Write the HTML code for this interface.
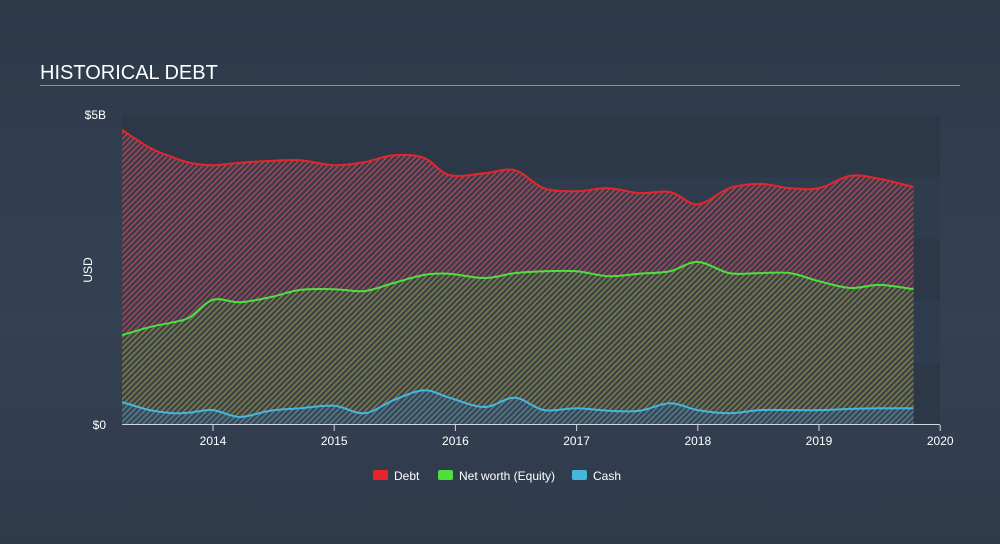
<!DOCTYPE html>
<html><head><meta charset="utf-8"><style>
body{margin:0;width:1000px;height:544px;overflow:hidden;background:linear-gradient(180deg,#2d3a4a 0%,#344153 60%,#2f3b4b 100%);font-family:"Liberation Sans",sans-serif;}
svg{position:absolute;left:0;top:0}
</style></head><body>
<svg width="1000" height="544">
<defs>
<pattern id="hR" width="4" height="4" patternUnits="userSpaceOnUse" patternTransform="rotate(45)"><rect width="4" height="4" fill="#3a3c4b"/><rect width="1.4" height="4" fill="#a8485a"/></pattern>
<pattern id="hG" width="4" height="4" patternUnits="userSpaceOnUse" patternTransform="rotate(45)"><rect width="4" height="4" fill="#3c4446"/><rect width="1.4" height="4" fill="#827f50"/></pattern>
<pattern id="hB" width="4" height="4" patternUnits="userSpaceOnUse" patternTransform="rotate(45)"><rect width="4" height="4" fill="#384856"/><rect width="1.4" height="4" fill="#587f90"/></pattern>
</defs>
<text x="40" y="79" fill="#fff" font-size="20">HISTORICAL DEBT</text>
<rect x="40" y="85" width="920" height="1" fill="#8893a0"/>
<g id="bands"></g>
<g id="areas"></g>
<g id="axes"></g>
<g font-size="12" fill="#fff">
<rect x="373" y="470" width="15" height="10" rx="2" fill="#e8242a"/>
<text x="394" y="480">Debt</text>
<rect x="438" y="470" width="15" height="10" rx="2" fill="#4fdf3f"/>
<text x="459" y="480">Net worth (Equity)</text>
<rect x="572" y="470" width="15" height="10" rx="2" fill="#45b6dc"/>
<text x="593" y="480">Cash</text>
</g>
<text transform="translate(92,270) rotate(-90)" fill="#fff" font-size="12" text-anchor="middle">USD</text>
</svg>
<script>
const dates=[2013.25,2013.48,2013.68,2013.81,2014.0,2014.22,2014.47,2014.72,2015.0,2015.25,2015.49,2015.74,2015.95,2016.24,2016.49,2016.73,2017.0,2017.26,2017.52,2017.77,2018.0,2018.26,2018.51,2018.76,2019.0,2019.26,2019.5,2019.78];
const debt=[4.76,4.47,4.31,4.23,4.19,4.23,4.26,4.27,4.19,4.24,4.35,4.31,4.03,4.06,4.11,3.82,3.77,3.82,3.74,3.76,3.56,3.82,3.89,3.82,3.82,4.02,3.97,3.84];
const equity=[1.45,1.58,1.66,1.74,2.02,1.98,2.06,2.18,2.19,2.16,2.29,2.42,2.44,2.37,2.45,2.48,2.48,2.40,2.44,2.48,2.63,2.45,2.45,2.45,2.32,2.21,2.26,2.19];
const cash=[0.37,0.24,0.19,0.2,0.24,0.13,0.23,0.27,0.31,0.19,0.40,0.56,0.44,0.29,0.44,0.24,0.27,0.23,0.23,0.35,0.24,0.19,0.24,0.24,0.24,0.26,0.27,0.27];
const xTicks=[2014,2015,2016,2017,2018,2019,2020];
const yTicks=[0,5];const yLabels=["$0","$5B"];
const X=y=>213+(y-2014)*121.2, Y=v=>425-v*62;
const NS="http://www.w3.org/2000/svg";
function el(t,a,p){const e=document.createElementNS(NS,t);for(const k in a)e.setAttribute(k,a[k]);p.appendChild(e);return e;}
const bands=document.getElementById('bands');
for(let i=0;i<5;i++){const r=el('rect',{x:122,y:115+i*62,width:818,height:62,fill:i%2?'#2f3c4d':'#2c3848'},bands);

}
function curve(vals){const p=vals.map((v,i)=>[X(dates[i]),Y(v)]);let d='M'+p[0];
for(let i=0;i<p.length-1;i++){const a=p[i-1]||p[i],b=p[i],c=p[i+1],e=p[i+2]||c;
d+=`C${b[0]+(c[0]-a[0])/6},${b[1]+(c[1]-a[1])/6} ${c[0]-(e[0]-b[0])/6},${c[1]-(e[1]-b[1])/6} ${c[0]},${c[1]}`;}return d;}
const areas=document.getElementById('areas');
const x0=X(dates[0]),x1=X(dates[dates.length-1]);
[[debt,'hR','#e8242a','debt'],[equity,'hG','#4fdf3f','equity'],[cash,'hB','#45b6dc','cash']].forEach(([v,pat,col,n])=>{
const c=curve(v);
const a=el('path',{d:c+`L${x1},425L${x0},425Z`,fill:`url(#${pat})`},areas);


const l=el('path',{d:c,fill:'none',stroke:col,'stroke-width':2},areas);

});
const ax=document.getElementById('axes');
const bl=el('rect',{x:122,y:424,width:818,height:1,fill:'#cfd5dc'},ax);


xTicks.forEach(t=>{const tk=el('rect',{x:X(t)-0.5,y:425,width:1,height:6,fill:'#cfd5dc'},ax);


const tx=el('text',{x:X(t),y:445,fill:'#fff','font-size':12,'text-anchor':'middle'},ax);tx.textContent=t;

});
yTicks.forEach((t,i)=>{const tx=el('text',{x:106,y:Y(t)+4,fill:'#fff','font-size':12,'text-anchor':'end'},ax);tx.textContent=yLabels[i];

});
</script>
</body></html>
